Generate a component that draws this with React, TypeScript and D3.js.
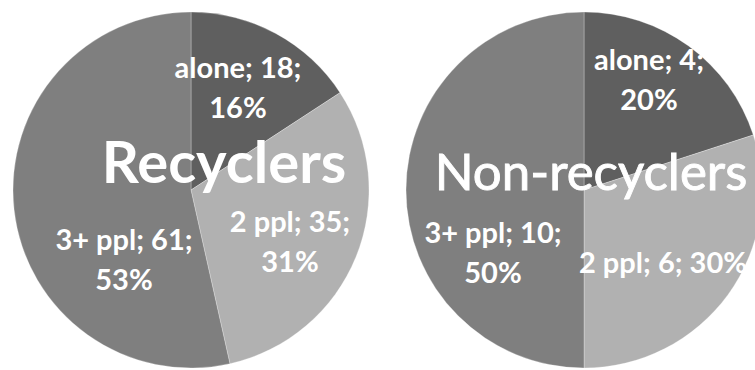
import React from "react";
import * as d3 from "d3";

const categories = ["alone", "2 ppl", "3+ ppl"];
const recyclersValues = [18, 35, 61];
const recyclersPct = ["16%", "31%", "53%"];
const nonRecyclersValues = [4, 6, 10];
const nonRecyclersPct = ["20%", "30%", "50%"];
const titles = ["Recyclers", "Non-recyclers"];

const W = 755;
const H = 370;
const colors = ["#5f5f5f", "#b1b1b1", "#7f7f7f"];

type PieSpec = {
  cx: number;
  cy: number;
  r: number;
  values: number[];
  pcts: string[];
  title: string;
  titleDx: number;
  titleDy: number;
  titleSize: number;
  titleWeight: number;
  titleStroke: number;
  labelPos: { dx: number; dy: number; oneLine?: boolean }[];
};

const specs: PieSpec[] = [
  {
    cx: 191,
    cy: 190,
    r: 178,
    values: recyclersValues,
    pcts: recyclersPct,
    title: titles[0],
    titleDx: 33,
    titleDy: -7,
    titleSize: 58,
    titleWeight: 700,
    titleStroke: 0,
    labelPos: [
      { dx: 47, dy: -112 },
      { dx: 99, dy: 42 },
      { dx: -67, dy: 60 },
    ],
  },
  {
    cx: 584,
    cy: 190,
    r: 178,
    values: nonRecyclersValues,
    pcts: nonRecyclersPct,
    title: titles[1],
    titleDx: 7,
    titleDy: 0,
    titleSize: 51,
    titleWeight: 400,
    titleStroke: 0.9,
    labelPos: [
      { dx: 65, dy: -120 },
      { dx: 79, dy: 83, oneLine: true },
      { dx: -91, dy: 53 },
    ],
  },
];

function Pie({ spec }: { spec: PieSpec }) {
  const pie = d3
    .pie<number>()
    .sort(null)
    .value((d) => d);
  const arcs = pie(spec.values);
  const arc = d3
    .arc<d3.PieArcDatum<number>>()
    .innerRadius(0)
    .outerRadius(spec.r);
  const lineH = 40;
  return (
    <g transform={`translate(${spec.cx},${spec.cy})`}>
      {arcs.map((a, i) => (
        <path
          key={i}
          d={arc(a) || ""}
          fill={colors[i]}
          stroke="#ffffff"
          strokeOpacity={0.35}
          strokeWidth={0.8}
        />
      ))}
      <text
        x={spec.titleDx}
        y={spec.titleDy}
        textAnchor="middle"
        fill="#ffffff"
        stroke="#ffffff"
        strokeWidth={spec.titleStroke}
        fontFamily="Lato, 'Open Sans', sans-serif"
        fontWeight={spec.titleWeight}
        fontSize={spec.titleSize}
      >
        {spec.title}
      </text>
      {arcs.map((a, i) => {
        const p = spec.labelPos[i];
        const line1 = `${categories[i]}; ${spec.values[i]};`;
        const line2 = spec.pcts[i];
        return (
          <text
            key={"l" + i}
            textAnchor="middle"
            fill="#ffffff"
            fontFamily="Lato, 'Open Sans', sans-serif"
            fontWeight={700}
            fontSize={29}
          >
            {p.oneLine ? (
              <tspan x={p.dx} y={p.dy}>
                {line1 + " " + line2}
              </tspan>
            ) : (
              <>
                <tspan x={p.dx} y={p.dy}>
                  {line1}
                </tspan>
                <tspan x={p.dx} y={p.dy + lineH}>
                  {line2}
                </tspan>
              </>
            )}
          </text>
        );
      })}
    </g>
  );
}

export default function App() {
  return (
    <svg
      width={W}
      height={H}
      viewBox={`0 0 ${W} ${H}`}
      style={{ position: "absolute", left: 0, top: 0, display: "block", background: "#ffffff" }}
    >
      <rect width={W} height={H} fill="#ffffff" />
      {specs.map((s, i) => (
        <Pie key={i} spec={s} />
      ))}
    </svg>
  );
}
